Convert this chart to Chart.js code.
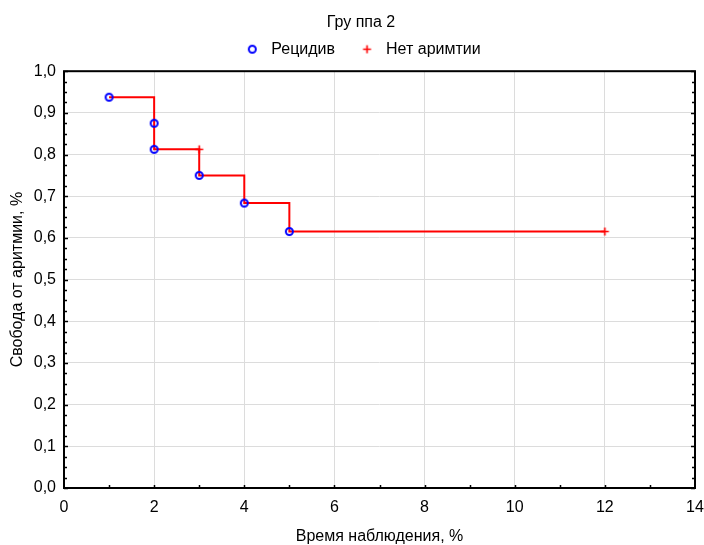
<!DOCTYPE html>
<html>
<head>
<meta charset="utf-8">
<script src="https://cdn.jsdelivr.net/npm/chart.js@4/dist/chart.umd.min.js"></script>
<style>
  html, body { margin: 0; padding: 0; background: #fff; }
  #wrap { width: 704px; height: 545px; }
</style>
</head>
<body>
<div id="wrap"><canvas id="c" width="704" height="545"></canvas></div>
<script>
// ---- data ----
const titleText = "Гру ппа 2";
const xTitle = "Время наблюдения, %";
const yTitle = "Свобода от аритмии, %";
const relapseLabel = "Рецидив";
const censorLabel = "Нет аримтии";

// events (blue circles)
const relapseX = [1, 2, 2, 3, 4, 5];
const relapseY = [0.9375, 0.875, 0.8125, 0.75, 0.6836, 0.6153];
// censored (red crosses)
const censorX = [3, 12];
const censorY = [0.8125, 0.6153];
// survival step function
const stepX = [1, 2, 3, 4, 5, 12];
const stepY = [0.9375, 0.8125, 0.75, 0.6836, 0.6153, 0.6153];

const xMin = 0, xMax = 14, xStep = 2;
const yMin = 0, yMax = 1, yStep = 0.1;

const toPts = (xs, ys) => xs.map((x, i) => ({ x: x, y: ys[i] }));

const FONT = "'Liberation Sans', Arial, sans-serif";
const FS = 16;
Chart.defaults.font.family = FONT;
Chart.defaults.font.size = FS;
Chart.defaults.color = '#000';

// marker images (used both in plot and legend)
function makeCircle() {
  const c = document.createElement('canvas');
  c.width = 11; c.height = 11;
  const g = c.getContext('2d');
  g.strokeStyle = '#0000ff';
  g.lineWidth = 2;
  g.beginPath();
  g.arc(5.5, 5.5, 3.5, 0, Math.PI * 2);
  g.stroke();
  return c;
}
function makeCross() {
  const c = document.createElement('canvas');
  c.width = 11; c.height = 11;
  const g = c.getContext('2d');
  g.strokeStyle = '#ff0000';
  g.lineWidth = 1.6;
  g.beginPath();
  g.moveTo(1.5, 5.5); g.lineTo(9.5, 5.5);
  g.moveTo(5.5, 1.5); g.lineTo(5.5, 9.5);
  g.stroke();
  return c;
}
const circleImg = makeCircle();
const crossImg = makeCross();

const framePlugin = {
  id: 'frame',
  afterDatasetsDraw(chart) {
    const { ctx, chartArea: a, scales } = chart;
    ctx.save();
    ctx.strokeStyle = '#000';
    ctx.lineWidth = 1.5;
    ctx.beginPath();
    for (let v = 0; v <= yMax + 1e-9; v += 0.025) {
      const py = Math.round(scales.y.getPixelForValue(v)) + 0.5;
      const len = (Math.abs(v * 10 - Math.round(v * 10)) < 1e-6) ? 4 : 3;
      ctx.moveTo(a.left, py); ctx.lineTo(a.left + len, py);
      ctx.moveTo(a.right, py); ctx.lineTo(a.right - len, py);
    }
    for (let v = 1; v < xMax; v += 1) {
      const px = Math.round(scales.x.getPixelForValue(v)) + 0.5;
      ctx.moveTo(px, a.bottom); ctx.lineTo(px, a.bottom - 3);
    }
    ctx.stroke();
    ctx.lineWidth = 2;
    ctx.strokeRect(a.left, a.top, a.right - a.left, a.bottom - a.top);
    ctx.restore();
  }
};

new Chart(document.getElementById('c'), {
  type: 'scatter',
  data: {
    datasets: [
      {
        label: relapseLabel,
        data: toPts(relapseX, relapseY),
        pointStyle: circleImg,
        pointRadius: 4,
        borderColor: '#0000ff',
        backgroundColor: 'rgba(255,255,255,0)',
        order: 1
      },
      {
        label: censorLabel,
        data: toPts(censorX, censorY),
        pointStyle: crossImg,
        pointRadius: 4.5,
        borderColor: '#ff0000',
        backgroundColor: '#ff0000',
        order: 2
      },
      {
        label: 'step',
        data: toPts(stepX, stepY),
        showLine: true,
        stepped: 'before',
        borderColor: '#ff0000',
        borderWidth: 2,
        pointRadius: 0,
        fill: false,
        order: 3
      }
    ]
  },
  options: {
    responsive: false,
    animation: false,
    layout: { padding: { left: 18, right: 0, top: 0, bottom: 0 } },
    plugins: {
      title: {
        display: true,
        text: titleText,
        color: '#000',
        font: { size: FS, weight: 'normal' },
        padding: { top: 13, bottom: -12 }
      },
      legend: {
        display: true,
        position: 'top',
        labels: {
          usePointStyle: true,
          pointStyleWidth: 22,
          boxHeight: 6,
          padding: 21,
          color: '#000',
          font: { size: FS },
          filter: (item) => item.text !== 'step'
        }
      },
      tooltip: { enabled: false }
    },
    scales: {
      x: {
        type: 'linear',
        min: xMin, max: xMax,
        ticks: { stepSize: xStep, padding: 10, color: '#000', font: { size: FS } },
        grid: { color: '#dcdcdc', lineWidth: 1, drawTicks: false },
        border: { display: false },
        title: { display: true, text: xTitle, color: '#000', font: { size: FS }, padding: { top: 17, bottom: -1.5 } },
        afterFit(s) { s.height = 57; s.paddingRight = 9; s.paddingLeft = 0; }
      },
      xTop: {
        type: 'linear',
        position: 'top',
        min: xMin, max: xMax,
        ticks: { display: false },
        grid: { display: false, drawTicks: false },
        border: { display: false },
        afterFit(s) { s.height = 4; s.paddingRight = 0; s.paddingLeft = 0; }
      },
      y: {
        type: 'linear',
        min: yMin, max: yMax,
        ticks: {
          stepSize: yStep, padding: 8, color: '#000', font: { size: FS },
          callback: (v) => Number(v).toFixed(1).replace('.', ',')
        },
        grid: { color: '#dcdcdc', lineWidth: 1, drawTicks: false },
        border: { display: false },
        title: { display: true, text: yTitle, color: '#000', font: { size: FS }, padding: { top: -10, bottom: 4 } },
        afterFit(s) { s.width = 46; }
      }
    }
  },
  plugins: [framePlugin]
});
</script>
</body>
</html>
